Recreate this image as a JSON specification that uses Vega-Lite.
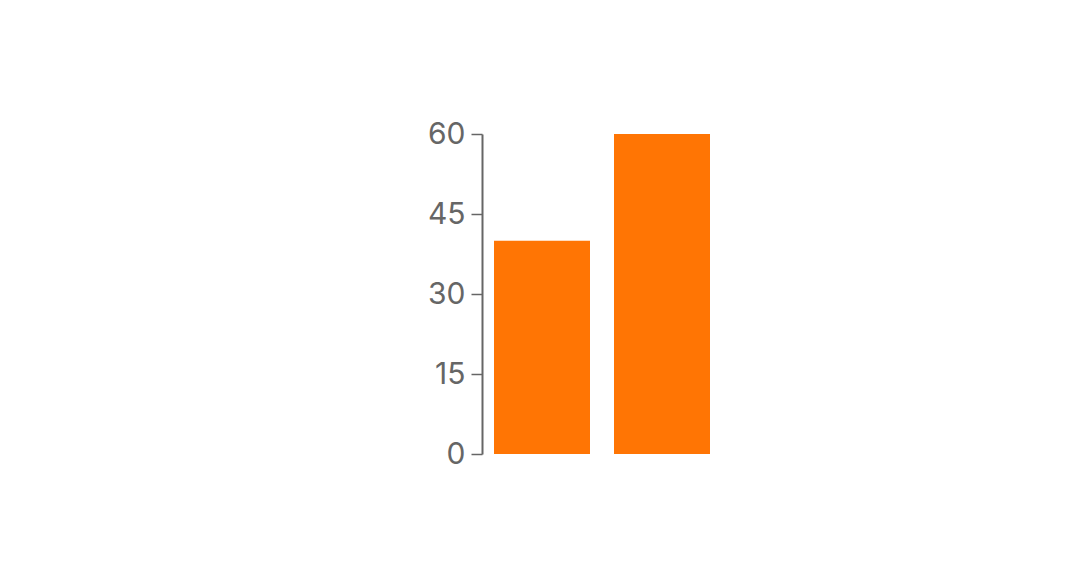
{
  "$schema": "https://vega.github.io/schema/vega-lite/v6.json",
  "autosize": {"type": "none"},
  "padding": {"left": 482, "top": 134, "right": 362, "bottom": 134},
  "width": 240,
  "height": 320,
  "background": "white",
  "config": {
    "view": {"stroke": null},
    "font": "Inter"
  },
  "data": {
    "values": [
      {"category": "A", "value": 40},
      {"category": "B", "value": 60}
    ]
  },
  "mark": {"type": "bar", "color": "#ff7504"},
  "encoding": {
    "x": {
      "field": "category",
      "type": "nominal",
      "axis": null,
      "scale": {"paddingInner": 0.2, "paddingOuter": 0.1}
    },
    "y": {
      "field": "value",
      "type": "quantitative",
      "title": null,
      "scale": {"domain": [0, 60], "nice": false},
      "axis": {
        "values": [0, 15, 30, 45, 60],
        "grid": false,
        "domainColor": "#666666",
        "domainWidth": 2,
        "tickColor": "#666666",
        "tickSize": 11,
        "tickWidth": 1.5,
        "labelColor": "#666666",
        "labelFontSize": 30,
        "labelFontWeight": "normal",
        "labelPadding": 6,
        "labelFont": "Inter"
      }
    }
  }
}
